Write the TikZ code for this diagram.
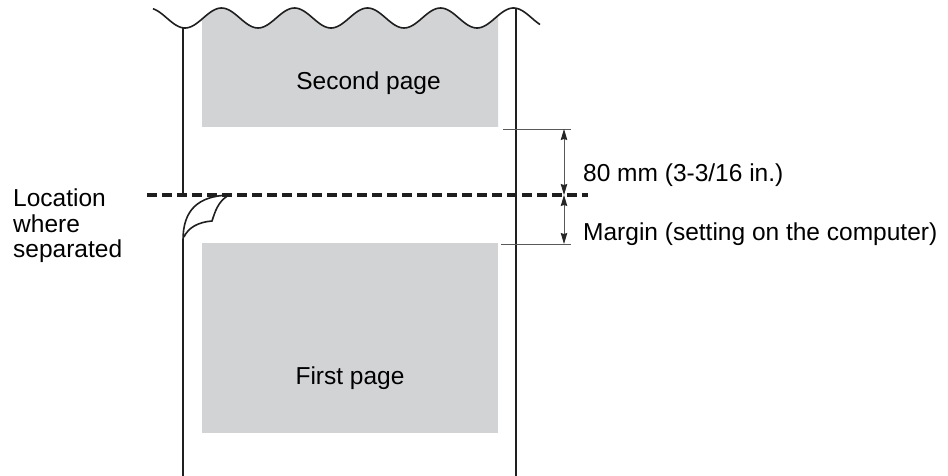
\documentclass[tikz,border=0pt]{standalone}
\usepackage{fontspec}
\setmainfont{Liberation Sans}
\usetikzlibrary{arrows.meta}
\definecolor{pagegray}{RGB}{210,211,213}
\tikzset{
  edge/.style={line width=1.8pt, black!88},
  sep/.style={line width=3.6pt, dash pattern=on 10pt off 5pt, black!88},
  dimline/.style={line width=0.9pt, black!65},
  dimarrow/.style={line width=0.9pt, black!65, {Stealth[length=11pt,width=6.5pt,inset=1pt,black!85]}-{Stealth[length=11pt,width=6.5pt,inset=1pt,black!85]}},
  lbl/.style={font=\fontsize{24.5}{27}\selectfont, inner sep=0pt, text=black},
}
\begin{document}
\begin{tikzpicture}[x=1pt,y=-1pt]
\useasboundingbox (0,0) rectangle (948,476);
% second page gray area
\fill[pagegray] plot[domain=202:498,samples=120] (\x,{18+10*cos((\x-185)/73*360)}) -- (498,127) -- (202,127) -- cycle;
% first page gray area
\fill[pagegray] (202,243) rectangle (498,433);
% wavy top edge
\draw[edge, line width=1.6pt] plot[domain=153:540,samples=200,smooth] (\x,{18+10*cos((\x-185)/73*360)});
% paper edges
\coordinate (ltop) at (183,28);
\coordinate (lsep) at (183,195);
\coordinate (rtop) at (516,8.5);
\coordinate (rbot) at (516,476);
\coordinate (lcurl) at (183,240);
\coordinate (lbot) at (183,476);
\draw[edge] (ltop) -- (lsep);
\draw[edge] (rtop) -- (rbot);
\draw[edge] (lcurl) -- (lbot);
% curl of the torn first page
\coordinate (tip) at (229,195);
\coordinate (corner) at (212,221);
\draw[edge, line width=1.6pt, line join=miter]
  (lcurl) .. controls (183,210) and (198,196) .. (tip)
  .. controls (218,201) and (215,212) .. (corner)
  .. controls (198,222) and (188,228) .. (184,237);
% separation line
\coordinate (sepL) at (147,195);
\coordinate (sepR) at (588,195);
\draw[sep] (sepL) -- (sepR);
% dimension lines
\coordinate (e1a) at (503,129);
\coordinate (e1b) at (571,129);
\coordinate (e2a) at (501,244);
\coordinate (e2b) at (571,244);
\draw[dimline] (e1a) -- (e1b);
\draw[dimline] (e2a) -- (e2b);
\coordinate (d1) at (564,129);
\coordinate (d2) at (564,195);
\coordinate (d3) at (564,244);
\draw[dimarrow] (d1) -- (d2);
\draw[dimarrow] (d2) -- (d3);
% labels
\node[lbl, anchor=base] (second) at (368.5,90) {Second page};
\node[lbl, anchor=base] (first) at (350,384) {First page};
\node[lbl, anchor=base west] (dim) at (583,182) {80 mm (3-3/16 in.)};
\node[lbl, anchor=base west] (margin) at (583,240) {Margin (setting on the computer)};
\node[lbl, anchor=base west] (loc1) at (13,207) {Location};
\node[lbl, anchor=base west] (loc2) at (13,232) {where};
\node[lbl, anchor=base west] (loc3) at (13,257) {separated};
\end{tikzpicture}
\end{document}
